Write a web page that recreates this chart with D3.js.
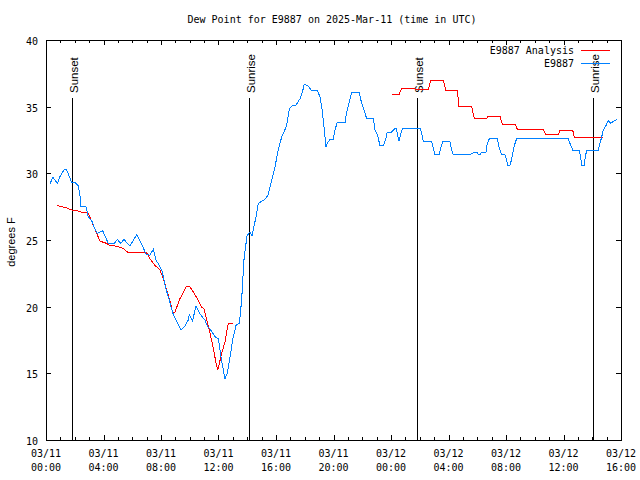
<!DOCTYPE html>
<html><head><meta charset="utf-8">
<script src="https://cdn.jsdelivr.net/npm/d3@7"></script>
<style>body{margin:0;background:#fff}svg{display:block}</style>
</head><body><svg id="c" width="640" height="480"></svg>
<script>
const title = "Dew Point for E9887 on 2025-Mar-11 (time in UTC)";
const yLabel = "degrees F";
const startUTC = Date.UTC(2025, 2, 11, 0, 0);
// hours since 03/11 00:00 UTC
const obsHours = [0.28,0.47,0.79,0.97,1.25,1.39,1.53,1.79,2.02,2.25,2.37,2.43,2.78,2.94,3.18,3.41,3.57,3.94,4.33,4.73,4.96,5.2,5.43,5.66,5.84,6.31,6.73,6.96,7.23,7.46,7.65,7.88,8.05,8.16,8.35,8.51,8.67,8.86,9.09,9.39,9.67,9.9,9.97,10.2,10.43,10.66,10.9,11.06,11.22,11.46,11.76,11.99,12.1,12.29,12.45,12.61,12.8,13.03,13.22,13.45,13.61,13.77,13.98,14.19,14.33,14.61,14.77,15.0,15.23,15.46,15.7,15.93,16.16,16.4,16.56,16.74,16.92,17.09,17.39,17.67,17.86,17.97,18.25,18.48,18.87,19.06,19.18,19.29,19.41,19.48,19.57,19.76,19.99,20.1,20.26,20.8,20.92,21.1,21.27,21.79,21.96,22.12,22.31,22.77,22.89,23.05,23.23,23.47,23.65,23.74,24.05,24.16,24.35,24.44,24.56,24.68,24.81,26.02,26.14,26.25,26.83,26.94,27.06,27.36,27.48,27.6,28.1,28.22,28.33,29.5,29.84,29.96,30.07,30.19,30.31,30.61,30.7,30.84,31.4,31.51,31.7,31.93,32.05,32.12,32.28,32.4,32.51,32.63,32.74,36.33,36.45,36.64,37.1,37.2,37.27,37.43,37.5,37.61,38.42,38.54,38.66,38.77,38.96,39.12,39.28,39.46,39.74];
const obsValues = [29.2,29.7,29.25,29.75,30.25,30.3,30.0,29.3,29.3,29.05,28.25,27.5,27.5,26.75,26.45,25.8,25.5,25.7,24.75,24.7,25.05,24.75,25.05,24.75,24.55,25.4,24.5,23.95,23.85,24.3,23.5,23.1,22.75,22.25,21.3,20.75,20.1,19.4,18.9,18.25,18.55,19.0,19.4,18.95,20.05,19.55,19.2,19.0,18.55,18.25,17.75,17.6,16.75,15.5,14.6,15.0,16.25,17.75,18.6,18.75,20.5,23.5,25.3,25.6,25.3,26.75,27.75,27.9,28.05,28.4,29.5,30.5,31.75,32.75,33.1,33.6,34.8,35.05,35.1,35.6,36.2,36.7,36.55,36.2,36.2,35.75,35.0,34.0,32.75,31.95,32.25,32.55,32.55,33.25,33.8,33.8,34.6,35.4,36.05,36.05,35.25,34.75,34.1,34.1,33.25,32.9,32.1,32.1,32.6,33.1,33.1,33.25,33.4,33.0,32.4,33.0,33.4,33.4,33.0,32.4,32.4,31.9,31.4,31.4,32.0,32.4,32.4,31.75,31.4,31.4,31.6,31.6,31.4,31.4,31.6,31.6,32.25,32.6,32.6,32.0,31.4,31.4,31.0,30.6,30.6,31.1,31.75,32.25,32.6,32.6,32.25,31.75,31.75,31.1,30.6,30.6,31.1,31.75,31.75,32.25,32.75,33.25,33.6,33.95,33.75,33.9,34.05];
// analysis series; null marks the gap
const anaHours = [0.74,1.09,1.44,1.79,2.14,2.41,2.71,2.94,3.06,3.29,3.53,3.76,4.1,4.45,4.8,5.03,5.38,5.66,6.07,7.0,7.23,7.58,7.93,8.16,8.4,8.67,8.81,8.97,9.32,9.79,9.97,10.25,10.59,10.83,10.99,11.18,11.41,11.64,11.83,11.94,12.06,12.22,12.45,12.68,12.99,18.5,24.05,24.58,24.74,25.55,25.74,26.6,26.76,27.64,27.81,28.61,28.73,29.61,29.8,30.66,30.77,31.58,31.74,32.63,32.79,34.59,34.78,35.64,35.76,36.64,36.75,38.73];
const anaValues = [27.6,27.5,27.4,27.25,27.2,27.1,27.05,27.0,26.7,26.1,25.5,24.9,24.8,24.6,24.55,24.5,24.35,24.1,24.05,24.05,23.6,23.1,22.75,22.1,21.25,20.25,19.5,19.6,20.6,21.55,21.55,21.1,20.5,19.95,19.85,19.0,18.0,16.9,15.75,15.25,15.75,16.5,17.35,18.75,18.75,null,35.95,35.95,36.4,36.4,36.3,36.3,36.95,36.95,36.25,36.25,35.0,35.0,34.1,34.1,34.3,34.3,33.7,33.7,33.3,33.3,32.9,32.9,33.25,33.25,32.7,32.7];
const sunEventHours = [1.81, 14.1, 25.8, 38.05];
const sunEventLabels = ["Sunset", "Sunrise", "Sunset", "Sunrise"];
const xTickHours = [0,4,8,12,16,20,24,28,32,36,40];
const xTickLabels = [["03/11","00:00"],["03/11","04:00"],["03/11","08:00"],["03/11","12:00"],["03/11","16:00"],["03/11","20:00"],["03/12","00:00"],["03/12","04:00"],["03/12","08:00"],["03/12","12:00"],["03/12","16:00"]];
const yTicks = [10,15,20,25,30,35,40];
const seriesNames = ["E9887 Analysis", "E9887"];
const seriesColors = ["#ff0000", "#0080ff"];

const H = h => new Date(startUTC + h * 3600000);
const svg = d3.select("#c");
const L = 46, R = 621, T = 40, B = 440;
const x = d3.scaleUtc().domain([H(0), H(40)]).range([L, R]);
const y = d3.scaleLinear().domain([10, 40]).range([B, T]);
const mono = "'DejaVu Sans Mono', monospace";
const sans = "'Liberation Sans', Arial, sans-serif";

// title
svg.append("text").attr("x", 332).attr("y", 23).attr("text-anchor", "middle")
  .attr("font-family", mono).attr("font-size", 10).text(title);

// y label
svg.append("text").attr("transform", "translate(15,242) rotate(-90)").attr("text-anchor", "middle")
  .attr("font-family", sans).attr("font-size", 11).text(yLabel);

const g = svg.append("g").attr("shape-rendering", "crispEdges");

// hourly minor ticks top and bottom
const allHours = d3.range(0, 41);
allHours.forEach(h => {
  const major = h % 4 === 0;
  const len = major ? 5 : 3;
  const xx = Math.round(x(H(h))) + 0.5;
  g.append("line").attr("x1", xx).attr("x2", xx).attr("y1", B).attr("y2", B - len).attr("stroke", "#000");
  g.append("line").attr("x1", xx).attr("x2", xx).attr("y1", T).attr("y2", T + len).attr("stroke", "#000");
});
yTicks.forEach(v => {
  const yy = Math.round(y(v)) + 0.5;
  g.append("line").attr("x1", L).attr("x2", L + 5).attr("y1", yy).attr("y2", yy).attr("stroke", "#000");
  g.append("line").attr("x1", R).attr("x2", R - 5).attr("y1", yy).attr("y2", yy).attr("stroke", "#000");
  svg.append("text").attr("x", 38).attr("y", yy + 4).attr("text-anchor", "end")
    .attr("font-family", mono).attr("font-size", 10).text(v);
});
xTickHours.forEach((h, i) => {
  const xx = x(H(h));
  const t = svg.append("text").attr("text-anchor", "middle").attr("font-family", mono).attr("font-size", 10);
  t.append("tspan").attr("x", xx).attr("y", 457).text(xTickLabels[i][0]);
  t.append("tspan").attr("x", xx).attr("y", 471).text(xTickLabels[i][1]);
});

// sunrise / sunset lines
sunEventHours.forEach((h, i) => {
  const xx = Math.round(x(H(h))) + 0.5;
  g.append("line").attr("x1", xx).attr("x2", xx).attr("y1", B).attr("y2", 98).attr("stroke", "#000");
  svg.append("text").attr("transform", `translate(${xx + 5},93) rotate(-90)`)
    .attr("font-family", sans).attr("font-size", 11.5).text(sunEventLabels[i]);
});

// series
const line = d3.line().defined(d => d[1] != null).x(d => x(H(d[0]))).y(d => y(d[1]));
const ana = anaHours.map((h, i) => [h, anaValues[i]]);
const obs = obsHours.map((h, i) => [h, obsValues[i]]);
const sg = svg.append("g").attr("shape-rendering", "crispEdges");
sg.append("path").datum(ana).attr("d", line).attr("fill", "none").attr("stroke", seriesColors[0]).attr("stroke-width", 1);
sg.append("path").datum(obs).attr("d", line).attr("fill", "none").attr("stroke", seriesColors[1]).attr("stroke-width", 1);

// legend
seriesNames.forEach((n, i) => {
  const yy = 50 + i * 13;
  svg.append("text").attr("x", 574).attr("y", yy + 4).attr("text-anchor", "end")
    .attr("font-family", mono).attr("font-size", 10).text(n);
  sg.append("line").attr("x1", 581).attr("x2", 610).attr("y1", yy + 0.5).attr("y2", yy + 0.5).attr("stroke", seriesColors[i]);
});

// border
g.append("rect").attr("x", L + 0.5).attr("y", T + 0.5).attr("width", R - L).attr("height", B - T)
  .attr("fill", "none").attr("stroke", "#000");
</script></body></html>
